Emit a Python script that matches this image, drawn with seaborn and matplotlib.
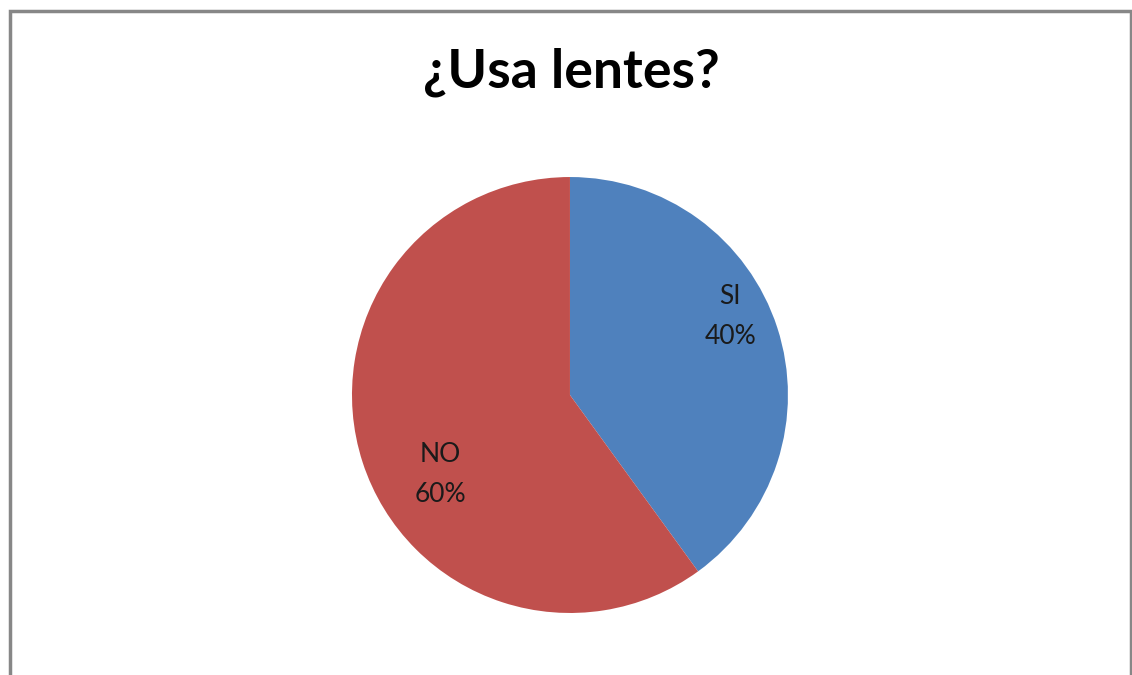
import matplotlib
matplotlib.use("Agg")
import matplotlib.pyplot as plt
import matplotlib.patches as mpatches
import seaborn as sns

sns.set_theme(style="white")
plt.rcParams['font.family'] = ['Lato', 'DejaVu Sans']

categories = ["SI", "NO"]
values = [40, 60]
colors = ["#4F81BD", "#C0504D"]
title = "¿Usa lentes?"

fig = plt.figure(figsize=(11.32, 6.75), dpi=100)
fig.patch.set_facecolor("white")

ax = fig.add_axes([0.2628, 0.0111, 0.4814, 0.8074])
wedges, _ = ax.pie(values, colors=colors, startangle=90, counterclock=False,
                   radius=1.0, wedgeprops=dict(linewidth=0))
ax.set_xlim(-1.25, 1.25)
ax.set_ylim(-1.25, 1.25)
ax.set_aspect("equal")
ax.axis("off")

label_pos = [(0.735, 0.36), (-0.595, -0.365)]
for (x, y), cat, v in zip(label_pos, categories, values):
    ax.text(x, y, f"{cat}\n{v}%", ha="center", va="center", fontsize=19,
            color="#1a1a1a", linespacing=1.75)

fig.text(0.505, 0.893, title, ha="center", va="center", fontsize=38.5,
         fontweight="bold", color="black")

frame = mpatches.Rectangle((9.5 / 1132, -0.05), (1130.5 - 9.5) / 1132, (664.5 / 675) + 0.05,
                           transform=fig.transFigure, fill=False,
                           edgecolor="#878787", linewidth=2.5)
fig.patches.append(frame)

fig.savefig("out.png", dpi=100, facecolor="white")
